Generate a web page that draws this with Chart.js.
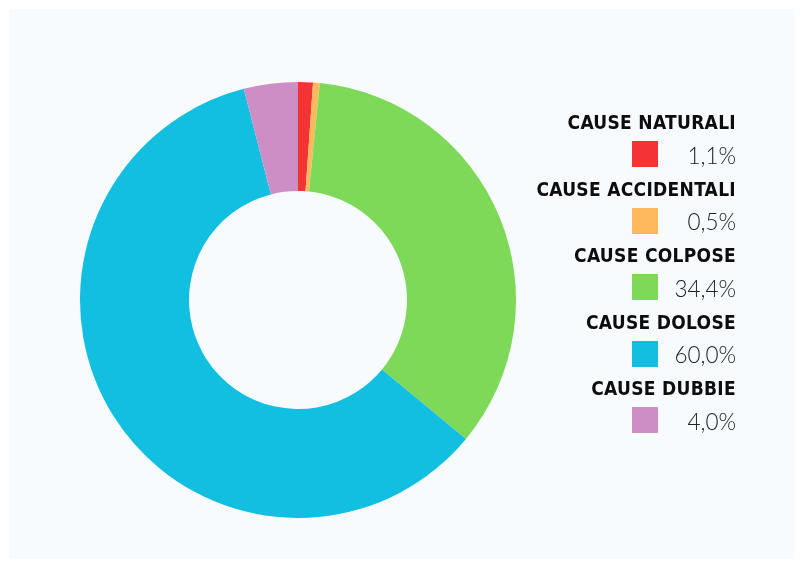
<!DOCTYPE html>
<html>
<head>
<meta charset="utf-8">
<script src="https://cdn.jsdelivr.net/npm/chart.js@4"></script>
<style>
  html, body { margin: 0; padding: 0; background: #fff; }
  body { width: 803px; height: 567px; position: relative; overflow: hidden; }
  #panel { position: absolute; left: 9px; top: 9px; width: 786px; height: 550px; background: #f7fbfe; }
  #chart-box { position: absolute; left: 80px; top: 82px; width: 436px; height: 436px; }
  #legend { position: absolute; left: 500px; top: 108px; width: 236px; }
  .item { text-align: right; height: 66.5px; }
  .title { font-family: "DejaVu Sans Condensed", "DejaVu Sans"; font-stretch: condensed; font-weight: bold; font-size: 19px; color: #0d0d0d; line-height: 28px; letter-spacing: 0.3px; }
  .row { display: flex; justify-content: flex-end; align-items: center; height: 30px; margin-top: 4px; }
  .swatch { width: 26px; height: 26px; margin-top: -2px; }
  .pct { font-family: "Lato"; font-weight: 300; font-size: 22.5px; color: #222; width: 78px; text-align: right; }
</style>
</head>
<body>
<div id="panel"></div>
<div id="chart-box"><canvas id="cause-chart"></canvas></div>
<div id="legend"></div>
<script>
  // Data
  const labels = ["CAUSE NATURALI", "CAUSE ACCIDENTALI", "CAUSE COLPOSE", "CAUSE DOLOSE", "CAUSE DUBBIE"];
  const values = [1.1, 0.5, 34.4, 60.0, 4.0];
  const colors = ["#f43335", "#fdb95b", "#7fd958", "#12bfe0", "#cc8ec4"];

  // HTML legend
  const legend = document.getElementById("legend");
  labels.forEach((label, i) => {
    const item = document.createElement("div");
    item.className = "item";
    item.innerHTML =
      '<div class="title">' + label + '</div>' +
      '<div class="row"><div class="swatch" style="background:' + colors[i] + '"></div>' +
      '<div class="pct">' + values[i].toFixed(1).replace(".", ",") + '%</div></div>';
    legend.appendChild(item);
  });

  // Chart
  const ctx = document.getElementById("cause-chart").getContext("2d");
  new Chart(ctx, {
    type: "doughnut",
    data: {
      labels: labels,
      datasets: [{
        data: values,
        backgroundColor: colors,
        borderWidth: 0,
      }],
    },
    options: {
      responsive: true,
      maintainAspectRatio: false,
      animation: false,
      cutout: "50%",
      layout: { padding: 0 },
      plugins: {
        legend: { display: false },
        tooltip: { enabled: false },
      },
    },
  });
</script>
</body>
</html>
